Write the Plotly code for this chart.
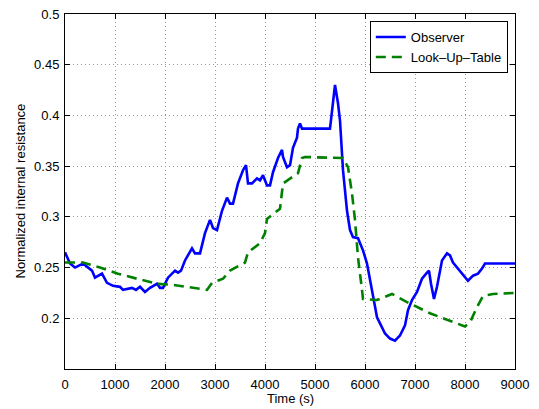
import plotly.graph_objects as go

# Observer (blue, solid)
obs_t = [0, 100, 200, 360, 540, 600, 740, 840, 960, 1100, 1160, 1340, 1420, 1500, 1600, 1700,
         1840, 1900, 1960, 2060, 2200, 2260, 2320, 2400, 2540, 2600, 2700, 2800, 2900, 2960,
         3040, 3140, 3240, 3300, 3360, 3460, 3560, 3620, 3660, 3740, 3840, 3900, 3960, 4040,
         4100, 4160, 4260, 4340, 4360, 4440, 4500, 4560, 4640, 4660, 4700, 4740, 5300, 5400,
         5460, 5500, 5560, 5640, 5700, 5760, 5860, 5960, 6040, 6140, 6240, 6300, 6400, 6500,
         6600, 6700, 6800, 6860, 6940, 7040, 7140, 7240, 7280, 7320, 7380, 7440, 7540, 7640,
         7700, 7760, 7860, 7960, 8060, 8160, 8260, 8340, 8400, 9000]
obs_r = [0.265, 0.254, 0.250, 0.254, 0.247, 0.240, 0.244, 0.235, 0.232, 0.231, 0.228, 0.230, 0.228,
         0.231, 0.226, 0.230, 0.234, 0.230, 0.230, 0.240, 0.247, 0.245, 0.247, 0.257, 0.269, 0.264,
         0.264, 0.284, 0.297, 0.289, 0.287, 0.306, 0.319, 0.313, 0.313, 0.333, 0.346, 0.351, 0.333,
         0.333, 0.338, 0.336, 0.341, 0.331, 0.331, 0.344, 0.358, 0.366, 0.359, 0.349, 0.351, 0.368,
         0.378, 0.387, 0.392, 0.387, 0.387, 0.430, 0.412, 0.395, 0.346, 0.306, 0.287, 0.280, 0.279,
         0.267, 0.254, 0.228, 0.201, 0.195, 0.185, 0.180, 0.178, 0.183, 0.193, 0.208, 0.218, 0.226,
         0.239, 0.245, 0.247, 0.234, 0.219, 0.231, 0.257, 0.264, 0.262, 0.255, 0.249, 0.242, 0.237,
         0.242, 0.244, 0.249, 0.254, 0.254]

# Look-Up-Table (green, dashed)
lut_t = [0, 360, 700, 1060, 1440, 1840, 2160, 2440, 2840, 2940, 3160, 3300, 3600, 3660, 3900,
         4000, 4040, 4300, 4360, 4660, 4740, 4800, 5560, 5660, 5740, 5800, 5860, 5940, 5960,
         6240, 6540, 6840, 7300, 7560, 8000, 8100, 8240, 8360, 8560, 9000]
lut_r = [0.255, 0.255, 0.250, 0.244, 0.239, 0.234, 0.233, 0.231, 0.228, 0.235, 0.239, 0.247,
         0.255, 0.265, 0.274, 0.284, 0.298, 0.308, 0.333, 0.343, 0.358, 0.359, 0.358, 0.349,
         0.323, 0.297, 0.260, 0.228, 0.219, 0.218, 0.224, 0.216, 0.205, 0.200, 0.192, 0.196,
         0.211, 0.222, 0.224, 0.225]

x_ticks = [0, 1000, 2000, 3000, 4000, 5000, 6000, 7000, 8000, 9000]
y_ticks = [0.2, 0.25, 0.3, 0.35, 0.4, 0.45, 0.5]
y_labels = ["0.2", "0.25", "0.3", "0.35", "0.4", "0.45", "0.5"]

FONT = "Liberation Sans, Arial, Helvetica, sans-serif"

fig = go.Figure()
fig.add_trace(go.Scatter(x=obs_t, y=obs_r, mode="lines", name="Observer",
                         line=dict(color="rgb(0,0,255)", width=2.6)))
fig.add_trace(go.Scatter(x=lut_t, y=lut_r, mode="lines", name="Look–Up–Table",
                         line=dict(color="rgb(0,128,0)", width=2.6, dash="10px,6px")))

axis_common = dict(showline=True, linecolor="black", linewidth=1, mirror="allticks",
                   ticks="inside", ticklen=5, tickcolor="black", showgrid=True,
                   gridcolor="rgb(150,150,150)", griddash="1px,3px", gridwidth=1,
                   zeroline=False, tickfont=dict(family=FONT, size=13, color="black"))

fig.update_xaxes(range=[0, 9000], tickvals=x_ticks, ticktext=[str(v) for v in x_ticks],
                 ticklabelstandoff=3, **axis_common)
fig.update_yaxes(range=[0.15, 0.5], tickvals=y_ticks, ticktext=y_labels,
                 ticklabelstandoff=2, **axis_common)

fig.add_annotation(text="Time (s)", xref="paper", yref="paper", x=0.5, y=-0.0845,
                   xanchor="center", yanchor="middle", showarrow=False,
                   font=dict(family=FONT, size=13, color="black"))
fig.add_annotation(text="Normalized internal resistance", xref="paper", yref="paper",
                   x=-0.1, y=0.5, xanchor="center", yanchor="middle", textangle=-90,
                   showarrow=False, font=dict(family=FONT, size=13, color="black"))

fig.update_layout(
    width=539, height=409,
    margin=dict(l=65, r=24, t=14, b=40, autoexpand=False),
    paper_bgcolor="white", plot_bgcolor="white",
    font=dict(family=FONT, size=13, color="black"),
    legend=dict(x=0.984, y=0.98, xanchor="right", yanchor="top",
                bgcolor="white", bordercolor="black", borderwidth=1,
                font=dict(family=FONT, size=13, color="black"),
                tracegroupgap=0, itemwidth=30,
                entrywidth=110, entrywidthmode="pixels"),
    showlegend=True,
)

fig.write_html("out.html", config={"displayModeBar": False},
               post_script="document.body.style.margin='0px';document.body.style.overflow='hidden';")
